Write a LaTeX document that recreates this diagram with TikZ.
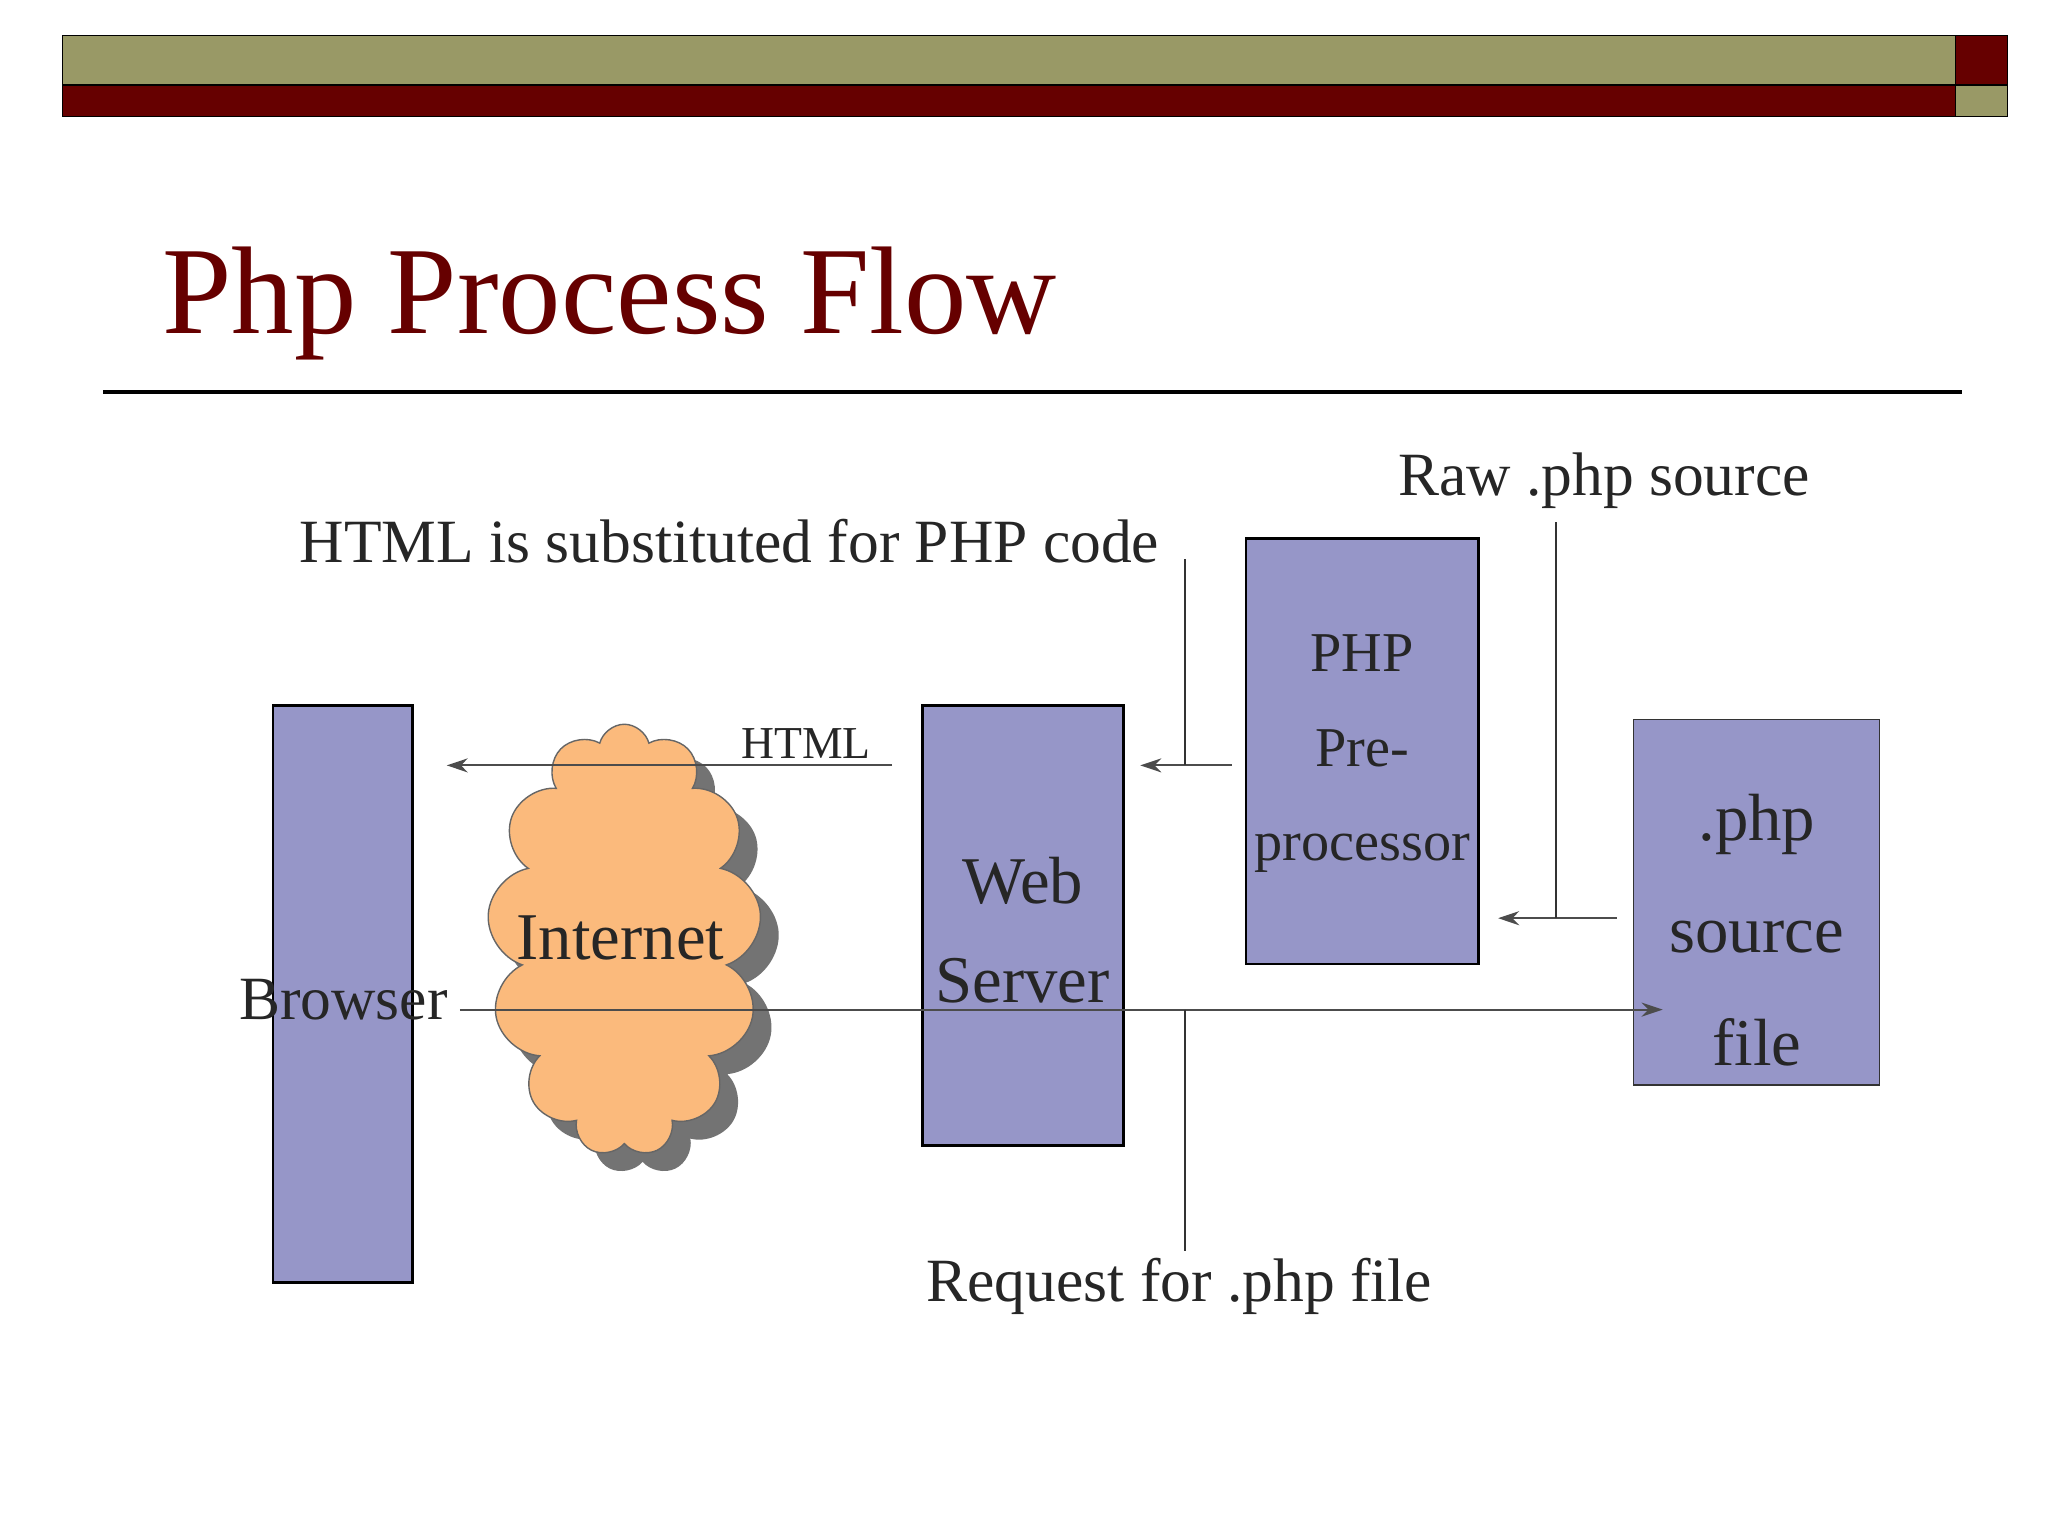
\documentclass[tikz,border=0pt]{standalone}
\usepackage{fontspec}
\setmainfont{Liberation Serif}
\usetikzlibrary{shapes.symbols,shapes.geometric,arrows.meta}
\definecolor{olive}{HTML}{999966}
\definecolor{dred}{HTML}{660000}
\definecolor{boxc}{HTML}{9696C8}
\definecolor{cloudc}{HTML}{FBBA7C}
\begin{document}
\begin{tikzpicture}[x=0.013061cm,y=-0.013061cm,
  box/.style={draw=black,fill=boxc,line width=0.8pt},
  lbl/.style={font=\fontsize{17.5}{21}\selectfont,text=black!85},
  arr/.style={draw=black!70,line width=0.6pt,-{Stealth[length=6pt,width=4pt]}},
  ln/.style={draw=black!80,line width=0.6pt},
  cl/.style={cloud,cloud puffs=13,cloud ignores aspect,minimum width=78pt,minimum height=123pt,inner sep=0pt}]
\useasboundingbox (0,0) rectangle (1568,1176);
\fill[white] (0,0) rectangle (1568,1176);
% header
\filldraw[fill=olive,draw=black] (48,27) rectangle (1497,65);
\filldraw[fill=dred,draw=black] (48,65) rectangle (1497,89);
\filldraw[fill=dred,draw=black] (1497,27) rectangle (1537,65);
\filldraw[fill=olive,draw=black] (1497,65) rectangle (1537,89);
\node[anchor=west,text=dred,font=\fontsize{35.5}{40}\selectfont] (title) at (115,232) {Php Process Flow};
\draw[line width=1pt] (79,300) -- (1502,300);
% boxes
\draw[box] (209,540) rectangle (316,982);
\node[lbl,anchor=center] (browser) at (263,765) {Browser};
\draw[box] (706,540) rectangle (860,877);
\node[lbl,align=center,font=\fontsize{19}{22}\selectfont] (web) at (783,712) {Web\\[6pt]Server};
\draw[box] (954,412) rectangle (1132,738);
\node[lbl,align=center,font=\fontsize{16}{19}\selectfont] (php) at (1043,577) {PHP\\[8pt]Pre-\\[8pt]processor};
% cloud
\node[cl,fill=black!55,draw=none] at (492,734) {};
\node[cl,fill=cloudc,draw=black!60] (cloud) at (478,720) {};
\node[lbl,font=\fontsize{19}{22}\selectfont] (inet) at (475,718) {Internet};
% cylinder
\node[cylinder,shape border rotate=90,aspect=0.35,draw=black!80,fill=boxc,cylinder uses custom fill,cylinder body fill=boxc,cylinder end fill=boxc!70!white,minimum width=70pt,minimum height=104pt,inner sep=0pt] (db) at (1345,691) {};
\node[lbl,align=center,font=\fontsize{19}{22}\selectfont] (dbt) at (1345,712) {.php\\[10pt]source\\[10pt]file};
% coordinates
\coordinate (h1) at (683,586); \coordinate (h2) at (342,586);
\coordinate (p1) at (943,586); \coordinate (p2) at (873,586);
\coordinate (s1) at (1238,703); \coordinate (s2) at (1147,703);
\coordinate (r1) at (352,773); \coordinate (r2) at (1273,773);
\draw[arr] (h1) -- (h2);
\draw[arr] (p1) -- (p2);
\draw[arr] (s1) -- (s2);
\draw[arr] (r1) -- (r2);
\draw[ln] (907,428) -- (907,586);
\draw[ln] (1191,400) -- (1191,703);
\draw[ln] (907,773) -- (907,958);
\node[font=\fontsize{13}{16}\selectfont,text=black!85] (htmll) at (617,569) {HTML};
\node[lbl,anchor=east] (sub) at (897,414) {HTML is substituted for PHP code};
\node[lbl] (raw) at (1228,368) {Raw .php source};
\node[lbl] (req) at (903,985) {Request for .php file};
\end{tikzpicture}
\end{document}
